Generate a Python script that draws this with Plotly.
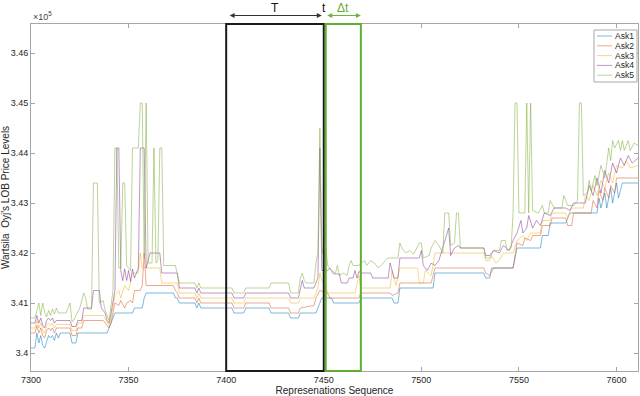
import plotly.graph_objects as go

# Ask price levels (x 1e5) as (sequence, price) breakpoints
ask1 = [(7300, 3.401), (7302, 3.401), (7303, 3.404), (7304, 3.402), (7305, 3.4035), (7306, 3.4015),
        (7307, 3.401), (7308, 3.4025), (7309, 3.4035), (7310, 3.403), (7311, 3.4035), (7312, 3.4025),
        (7313, 3.404), (7314, 3.403), (7315, 3.404), (7320, 3.404), (7321, 3.402), (7323, 3.402),
        (7324, 3.404), (7339, 3.404), (7343, 3.408), (7352, 3.408), (7353, 3.409), (7357, 3.409),
        (7358, 3.411), (7359, 3.412), (7373, 3.412), (7374, 3.411), (7375, 3.411), (7376, 3.410),
        (7384, 3.410), (7385, 3.409), (7386, 3.410), (7387, 3.409), (7403, 3.409), (7404, 3.408),
        (7409, 3.408), (7410, 3.409), (7422, 3.409), (7423, 3.408), (7432, 3.408), (7433, 3.407),
        (7437, 3.407), (7438, 3.408), (7446, 3.408), (7448, 3.410), (7449, 3.411), (7454, 3.411),
        (7455, 3.410), (7468, 3.410), (7469, 3.411), (7485, 3.411), (7486, 3.410), (7488, 3.410),
        (7489, 3.413), (7506, 3.413), (7507, 3.416), (7532, 3.416), (7533, 3.415), (7535, 3.415),
        (7536, 3.417), (7547, 3.417), (7549, 3.421), (7561, 3.421), (7562, 3.4235), (7565, 3.4235),
        (7566, 3.426), (7574, 3.426), (7576, 3.428), (7590, 3.428), (7591, 3.431), (7592, 3.429),
        (7594, 3.432), (7595, 3.429), (7597, 3.433), (7598, 3.430), (7600, 3.434), (7601, 3.431),
        (7603, 3.434), (7611, 3.434)]

ask2 = [(7300, 3.404), (7302, 3.404), (7303, 3.4055), (7304, 3.404), (7305, 3.405), (7306, 3.4035),
        (7307, 3.403), (7308, 3.4045), (7309, 3.405), (7310, 3.4045), (7311, 3.405), (7312, 3.404),
        (7313, 3.405), (7320, 3.405), (7321, 3.4035), (7323, 3.4035), (7324, 3.405), (7326, 3.405),
        (7327, 3.4065), (7337, 3.4065), (7339, 3.4055), (7340, 3.405), (7341, 3.406), (7343, 3.410),
        (7345, 3.4095), (7346, 3.4105), (7348, 3.409), (7349, 3.410), (7351, 3.4105), (7352, 3.410),
        (7353, 3.4125), (7356, 3.4125), (7357, 3.4135), (7358, 3.420), (7359, 3.4135), (7373, 3.4135),
        (7374, 3.4125), (7375, 3.412), (7376, 3.411), (7384, 3.411), (7385, 3.410), (7386, 3.411),
        (7387, 3.410), (7403, 3.410), (7404, 3.409), (7409, 3.409), (7410, 3.410), (7422, 3.410),
        (7423, 3.409), (7432, 3.409), (7433, 3.408), (7437, 3.408), (7438, 3.409), (7445, 3.4095),
        (7446, 3.411), (7448, 3.4125), (7452, 3.412), (7453, 3.411), (7468, 3.411), (7469, 3.412),
        (7484, 3.412), (7485, 3.4115), (7488, 3.412), (7489, 3.414), (7505, 3.414), (7507, 3.417),
        (7532, 3.417), (7533, 3.416), (7535, 3.4155), (7537, 3.417), (7547, 3.417), (7548, 3.4195),
        (7549, 3.422), (7552, 3.4215), (7553, 3.423), (7556, 3.4225), (7557, 3.4235), (7561, 3.4235),
        (7562, 3.4255), (7566, 3.4255), (7567, 3.427), (7574, 3.427), (7575, 3.4255), (7577, 3.4255),
        (7578, 3.428), (7587, 3.428), (7588, 3.4305), (7590, 3.429), (7591, 3.4325), (7593, 3.4305),
        (7594, 3.433), (7596, 3.431), (7597, 3.4335), (7599, 3.432), (7600, 3.435), (7611, 3.435)]

ask3 = [(7300, 3.405), (7302, 3.405), (7303, 3.4065), (7304, 3.405), (7305, 3.406), (7306, 3.4045),
        (7307, 3.404), (7308, 3.4055), (7309, 3.406), (7310, 3.4055), (7311, 3.406), (7312, 3.405),
        (7313, 3.4057), (7320, 3.4057), (7321, 3.4045), (7323, 3.4045), (7324, 3.406), (7326, 3.406),
        (7327, 3.4075), (7337, 3.4075), (7339, 3.4062), (7340, 3.4055), (7341, 3.407), (7343, 3.4115),
        (7345, 3.4125), (7346, 3.411), (7348, 3.4135), (7350, 3.4125), (7352, 3.416), (7355, 3.416),
        (7356, 3.420), (7357, 3.417), (7366, 3.417), (7367, 3.414), (7375, 3.414), (7376, 3.412),
        (7384, 3.412), (7385, 3.411), (7386, 3.412), (7387, 3.411), (7403, 3.411), (7404, 3.410),
        (7409, 3.410), (7410, 3.411), (7432, 3.411), (7433, 3.410), (7437, 3.410), (7438, 3.411),
        (7445, 3.411), (7447, 3.413), (7448, 3.416), (7449, 3.4145), (7451, 3.4135), (7452, 3.412),
        (7466, 3.412), (7467, 3.4135), (7468, 3.4155), (7469, 3.413), (7484, 3.413), (7485, 3.4165),
        (7487, 3.4135), (7489, 3.417), (7498, 3.417), (7499, 3.414), (7501, 3.414), (7502, 3.4165),
        (7505, 3.4155), (7506, 3.4175), (7507, 3.420), (7532, 3.420), (7533, 3.4185), (7535, 3.4185),
        (7536, 3.4195), (7538, 3.418), (7540, 3.4185), (7542, 3.420), (7547, 3.420), (7549, 3.4225),
        (7552, 3.4235), (7554, 3.4225), (7556, 3.424), (7561, 3.424), (7562, 3.4265), (7566, 3.4265),
        (7567, 3.428), (7574, 3.428), (7575, 3.427), (7577, 3.429), (7583, 3.429), (7584, 3.4315),
        (7586, 3.4305), (7588, 3.4335), (7590, 3.4315), (7592, 3.4345), (7594, 3.433), (7596, 3.436),
        (7598, 3.434), (7600, 3.4375), (7603, 3.437), (7605, 3.4385), (7607, 3.437), (7611, 3.4375)]

ask4 = [(7300, 3.406), (7302, 3.406), (7303, 3.4075), (7304, 3.406), (7305, 3.407), (7306, 3.4055),
        (7307, 3.405), (7308, 3.4065), (7309, 3.407), (7310, 3.4065), (7311, 3.407), (7312, 3.406),
        (7313, 3.4065), (7320, 3.4065), (7321, 3.4053), (7323, 3.4053), (7324, 3.4065), (7326, 3.4065),
        (7327, 3.409), (7331, 3.409), (7332, 3.4125), (7335, 3.4125), (7336, 3.409), (7338, 3.408),
        (7339, 3.4065), (7340, 3.406), (7341, 3.408), (7343, 3.4125), (7344, 3.441), (7345, 3.441),
        (7346, 3.4165), (7347, 3.4145), (7348, 3.4168), (7349, 3.4145), (7350, 3.4165), (7351, 3.4143),
        (7352, 3.4168), (7353, 3.415), (7355, 3.417), (7356, 3.441), (7358, 3.441), (7359, 3.417),
        (7360, 3.4185), (7361, 3.420), (7366, 3.420), (7367, 3.416), (7375, 3.416), (7376, 3.413),
        (7384, 3.413), (7385, 3.412), (7386, 3.413), (7387, 3.412), (7403, 3.412), (7404, 3.411),
        (7409, 3.411), (7410, 3.412), (7432, 3.412), (7433, 3.411), (7437, 3.411), (7438, 3.413),
        (7439, 3.4145), (7440, 3.413), (7445, 3.413), (7447, 3.415), (7448, 3.441), (7449, 3.4165),
        (7452, 3.4165), (7453, 3.417), (7455, 3.4158), (7458, 3.4158), (7459, 3.414), (7462, 3.414),
        (7463, 3.415), (7465, 3.415), (7466, 3.4165), (7467, 3.415), (7468, 3.4163), (7469, 3.416),
        (7474, 3.416), (7475, 3.415), (7483, 3.415), (7484, 3.418), (7486, 3.415), (7488, 3.415),
        (7489, 3.419), (7499, 3.419), (7500, 3.4205), (7501, 3.4175), (7503, 3.4165), (7505, 3.418),
        (7507, 3.4175), (7509, 3.4185), (7511, 3.421), (7514, 3.425), (7515, 3.4195), (7517, 3.421),
        (7519, 3.4215), (7520, 3.421), (7532, 3.421), (7533, 3.4195), (7535, 3.4195), (7537, 3.4205),
        (7540, 3.420), (7542, 3.4215), (7545, 3.4205), (7547, 3.4225), (7549, 3.424), (7551, 3.4265),
        (7552, 3.424), (7554, 3.425), (7555, 3.4275), (7557, 3.425), (7559, 3.4265), (7561, 3.4255),
        (7563, 3.428), (7566, 3.4275), (7568, 3.429), (7574, 3.429), (7576, 3.4285), (7578, 3.430),
        (7584, 3.430), (7586, 3.4335), (7588, 3.4315), (7590, 3.435), (7592, 3.432), (7594, 3.4365),
        (7596, 3.434), (7598, 3.438), (7600, 3.436), (7602, 3.439), (7604, 3.4375), (7606, 3.4395),
        (7608, 3.438), (7611, 3.439)]

ask5 = [(7300, 3.407), (7302, 3.407), (7303, 3.4085), (7304, 3.410), (7305, 3.4075), (7306, 3.410),
        (7307, 3.4082), (7308, 3.4072), (7309, 3.4085), (7310, 3.4075), (7311, 3.4088), (7312, 3.4078),
        (7313, 3.409), (7314, 3.408), (7318, 3.408), (7320, 3.410), (7321, 3.4063), (7322, 3.4066),
        (7323, 3.4075), (7325, 3.409), (7327, 3.412), (7328, 3.411), (7329, 3.4088), (7331, 3.4088),
        (7332, 3.434), (7334, 3.434), (7335, 3.410), (7337, 3.4105), (7338, 3.4085), (7339, 3.4075),
        (7340, 3.4065), (7341, 3.4095), (7342, 3.4125), (7343, 3.441), (7344, 3.441), (7345, 3.417),
        (7346, 3.417), (7347, 3.434), (7348, 3.434), (7349, 3.4175), (7351, 3.4165), (7352, 3.441),
        (7355, 3.441), (7356, 3.450), (7357, 3.450), (7358, 3.419), (7359, 3.450), (7360, 3.418),
        (7362, 3.418), (7363, 3.441), (7364, 3.418), (7365, 3.4185), (7366, 3.441), (7367, 3.441),
        (7368, 3.4175), (7374, 3.4175), (7375, 3.4155), (7376, 3.414), (7384, 3.414), (7385, 3.413),
        (7386, 3.414), (7387, 3.413), (7403, 3.413), (7404, 3.412), (7409, 3.412), (7410, 3.413),
        (7422, 3.413), (7423, 3.414), (7432, 3.414), (7433, 3.412), (7437, 3.412), (7438, 3.415),
        (7439, 3.416), (7440, 3.4145), (7441, 3.414), (7445, 3.414), (7446, 3.418), (7447, 3.420),
        (7448, 3.445), (7449, 3.421), (7450, 3.4195), (7451, 3.421), (7452, 3.4175), (7454, 3.4165),
        (7456, 3.416), (7457, 3.4175), (7458, 3.4155), (7460, 3.416), (7462, 3.4155), (7463, 3.4175),
        (7464, 3.4185), (7465, 3.4175), (7468, 3.4175), (7469, 3.418), (7471, 3.4185), (7472, 3.4175),
        (7474, 3.4185), (7476, 3.418), (7478, 3.417), (7483, 3.419), (7488, 3.419), (7489, 3.422),
        (7490, 3.421), (7492, 3.420), (7494, 3.4205), (7496, 3.4198), (7499, 3.422), (7500, 3.422),
        (7501, 3.419), (7504, 3.4195), (7505, 3.421), (7507, 3.4225), (7509, 3.4215), (7511, 3.420),
        (7512, 3.428), (7514, 3.428), (7515, 3.4215), (7517, 3.422), (7518, 3.428), (7519, 3.428),
        (7520, 3.421), (7532, 3.421), (7533, 3.419), (7535, 3.419), (7537, 3.4205), (7540, 3.4205),
        (7541, 3.4225), (7543, 3.4225), (7544, 3.4205), (7546, 3.421), (7547, 3.428), (7548, 3.450),
        (7549, 3.450), (7550, 3.428), (7553, 3.428), (7554, 3.450), (7555, 3.428), (7556, 3.450),
        (7557, 3.4285), (7560, 3.428), (7562, 3.4295), (7563, 3.428), (7565, 3.428), (7566, 3.4305),
        (7568, 3.429), (7572, 3.429), (7573, 3.4315), (7575, 3.4295), (7578, 3.4295), (7580, 3.4305),
        (7581, 3.450), (7582, 3.450), (7583, 3.4315), (7585, 3.432), (7586, 3.4345), (7587, 3.4325),
        (7589, 3.4355), (7590, 3.4335), (7592, 3.4375), (7594, 3.435), (7596, 3.441), (7597, 3.4385),
        (7598, 3.4425), (7599, 3.441), (7601, 3.4425), (7602, 3.4405), (7603, 3.4425), (7604, 3.4405),
        (7606, 3.4425), (7607, 3.4405), (7609, 3.442), (7611, 3.4415)]

series_names = ["Ask1", "Ask2", "Ask3", "Ask4", "Ask5"]
series_data = [ask1, ask2, ask3, ask4, ask5]
# MATLAB default colours at half opacity
series_colors = ["rgba(0,114,189,0.5)", "rgba(217,83,25,0.5)", "rgba(237,177,32,0.5)",
                 "rgba(126,47,142,0.5)", "rgba(119,172,48,0.5)"]

y_ticks = [3.40, 3.41, 3.42, 3.43, 3.44, 3.45, 3.46]
y_tick_text = ["3.4", "3.41", "3.42", "3.43", "3.44", "3.45", "3.46"]
x_ticks = [7300, 7350, 7400, 7450, 7500, 7550, 7600]

# window: T = [7400, 7450], Δt = [7451, 7469]
window_T = (7400, 7450)
window_dt = (7451, 7469)

# plot area in pixels (MATLAB axes position)
W, H = 640, 396
L, R, TOP, BOT = 31, 2, 24, 25
plot_w, plot_h = W - L - R, H - TOP - BOT


def px(x):
    return (x - L) / plot_w


def py(y):
    return (H - BOT - y) / plot_h


fig = go.Figure()

for name, data, color in zip(series_names, series_data, series_colors):
    fig.add_trace(go.Scatter(
        x=[p[0] for p in data],
        y=[p[1] for p in data],
        mode='lines',
        name=name,
        line=dict(color=color, width=1),
        showlegend=False,
    ))

# rectangles for the T and Δt windows
fig.add_shape(type='rect', xref='x', yref='paper', x0=window_T[0], x1=window_T[1], y0=0, y1=1,
              line=dict(color='#1a1a1a', width=2))
fig.add_shape(type='rect', xref='x', yref='paper', x0=window_dt[0], x1=window_dt[1], y0=0, y1=1,
              line=dict(color='#5fae32', width=2))

# double arrows above the plot
fig.add_annotation(x=window_T[1] - 1, y=py(15.5), xref='x', yref='paper',
                   ax=window_T[0] + 1, ay=0, axref='x', ayref='pixel',
                   showarrow=True, arrowside='end+start', arrowhead=2, arrowsize=1,
                   arrowwidth=1, arrowcolor='#333333', text='')
fig.add_annotation(x=window_dt[1], y=py(15.5), xref='x', yref='paper',
                   ax=window_dt[0], ay=0, axref='x', ayref='pixel',
                   showarrow=True, arrowside='end+start', arrowhead=2, arrowsize=1,
                   arrowwidth=1, arrowcolor='#6ab443', text='')
fig.add_annotation(x=sum(window_T) / 2, y=py(-1), xref='x', yref='paper', text='T',
                   yanchor='top', showarrow=False, font=dict(size=12, color='#111111'))
fig.add_annotation(x=window_T[1], y=py(-1), xref='x', yref='paper', text='t',
                   yanchor='top', showarrow=False, font=dict(size=12, color='#111111'))
fig.add_annotation(x=sum(window_dt) / 2, y=py(-1), xref='x', yref='paper', text='Δt',
                   yanchor='top', showarrow=False, font=dict(size=12, color='#5fae32'))

# MATLAB-style exponent label
fig.add_annotation(x=0, y=1.0, xref='paper', yref='paper', text='×10<sup>5</sup>',
                   xanchor='left', yanchor='bottom', showarrow=False,
                   font=dict(size=9, color='#444444'))

# legend box (drawn by hand to get MATLAB's compact spacing)
fig.add_shape(type='rect', xref='paper', yref='paper', x0=px(594), x1=px(637), y0=py(82), y1=py(30),
              line=dict(color='#a6a6a6', width=1), fillcolor='white', layer='above')
for i, (name, color) in enumerate(zip(series_names, series_colors)):
    row = 36 + i * 9.8
    fig.add_shape(type='line', xref='paper', yref='paper', x0=px(597), x1=px(612), y0=py(row), y1=py(row),
                  line=dict(color=color, width=1), layer='above')
    fig.add_annotation(x=px(613), y=py(row), xref='paper', yref='paper', text=name,
                       xanchor='left', yanchor='middle', showarrow=False,
                       font=dict(size=8.5, color='#262626'))

axis_style = dict(
    showgrid=False, zeroline=False, showline=True, linecolor='#a6a6a6', linewidth=1,
    mirror='ticks', ticks='inside', ticklen=4, tickcolor='#a6a6a6',
    tickfont=dict(size=9, color='#262626'),
)

fig.update_layout(
    width=W, height=H,
    margin=dict(l=L, r=R, t=TOP, b=BOT, autoexpand=False),
    plot_bgcolor='white', paper_bgcolor='white',
    font=dict(family='Liberation Sans, Arial, sans-serif', color='#262626'),
    xaxis=dict(range=[7300, 7611], tickvals=x_ticks,
               title=dict(text='Represenations Sequence', font=dict(size=10), standoff=0),
               **axis_style),
    yaxis=dict(range=[3.3964, 3.4658], tickvals=y_ticks, ticktext=y_tick_text,
               title=dict(text="Wartsila  Oyj's LOB Price Levels", font=dict(size=10), standoff=0),
               **axis_style),
    showlegend=False,
)

fig.write_html("out.html", config={'displayModeBar': False},
               post_script="document.body.style.margin='0';")
